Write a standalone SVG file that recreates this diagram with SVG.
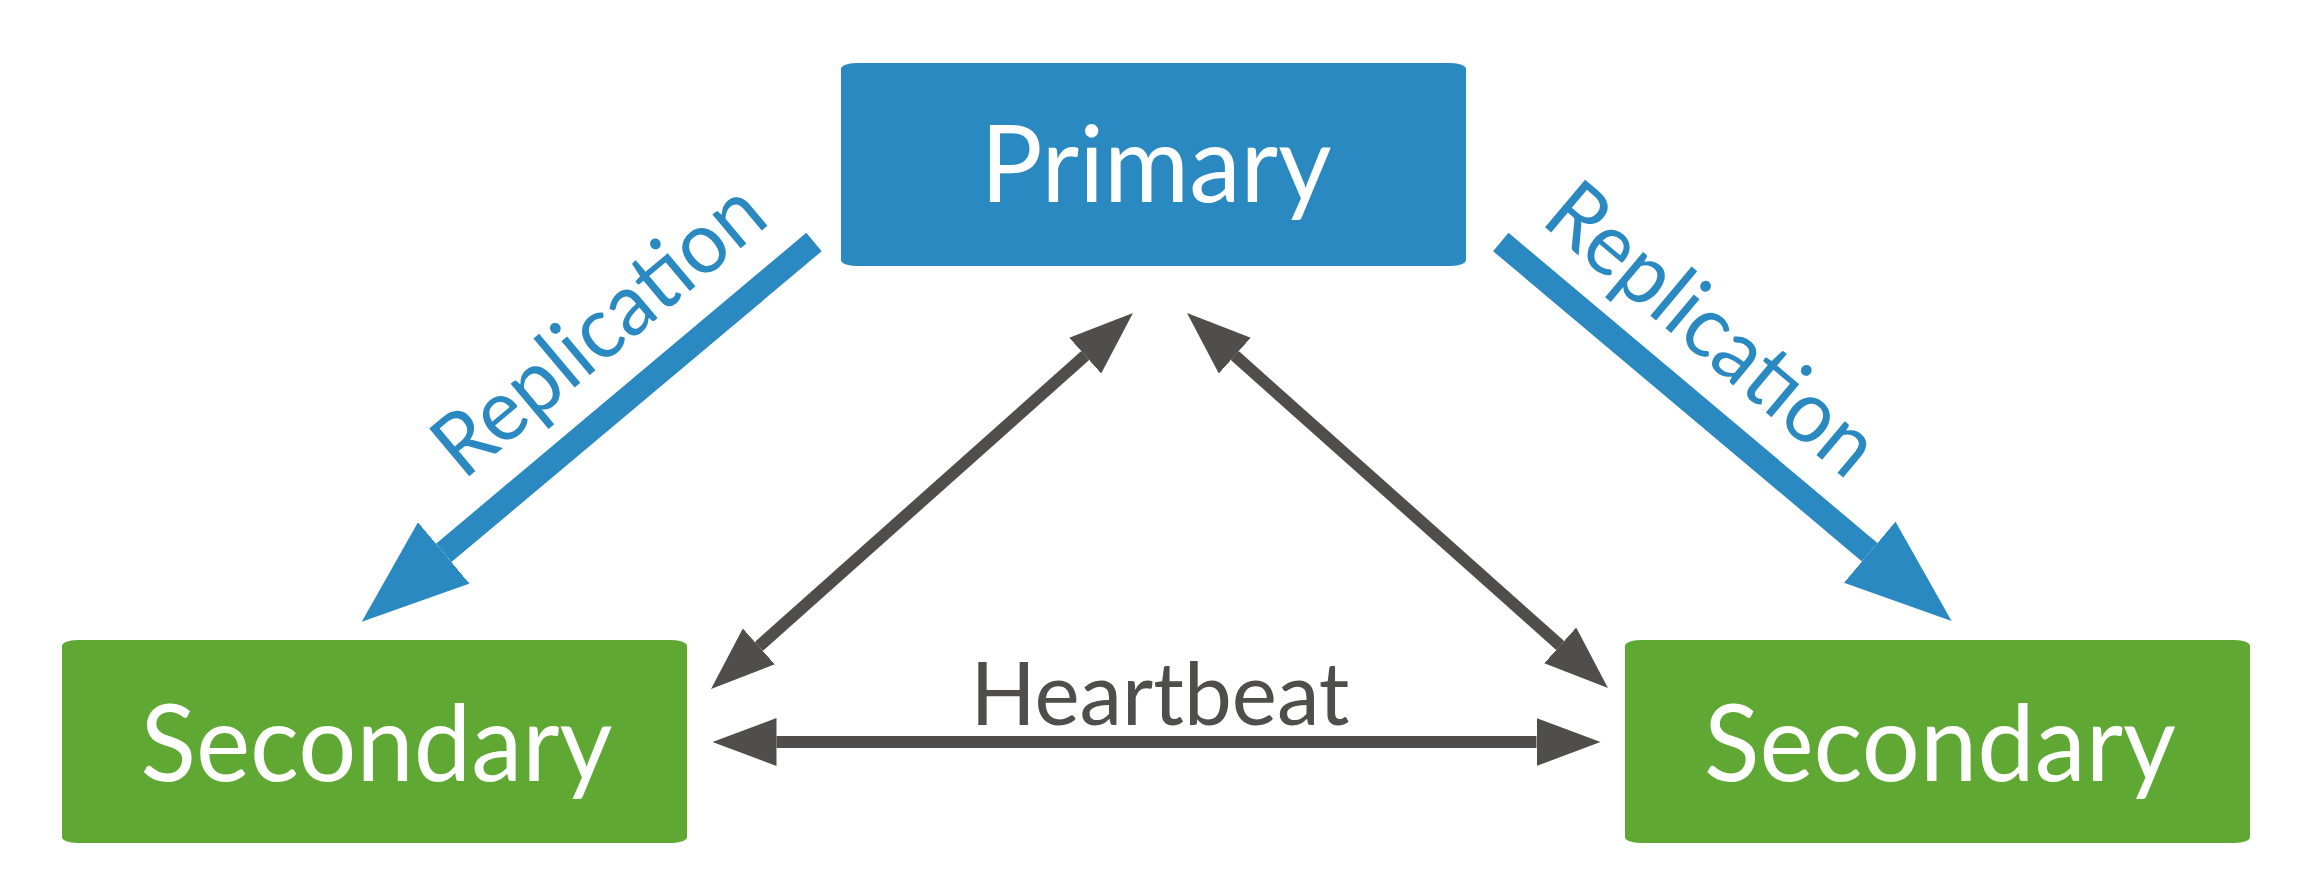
<svg xmlns="http://www.w3.org/2000/svg" width="2313" height="875" viewBox="0 0 2313 875">
  <style>
    .box-blue { fill: #2B89C1; }
    .box-green { fill: #5EA833; }
    .label { font-family: Lato, "Open Sans", "Liberation Sans", sans-serif; fill: #FFFFFF; font-size: 107px; text-anchor: middle; }
    .rep { font-family: Lato, "Open Sans", "Liberation Sans", sans-serif; fill: #2B89C1; font-size: 87px; text-anchor: middle; }
    .hb { font-family: Lato, "Open Sans", "Liberation Sans", sans-serif; fill: #4F4E4C; font-size: 88px; text-anchor: middle; }
    .rep-line { stroke: #2B89C1; stroke-width: 24; fill: none; }
    .gray-line { stroke: #4F4E4C; stroke-width: 12; fill: none; }
  </style>
  <defs>
    <marker id="blueHead" markerUnits="userSpaceOnUse" markerWidth="108" markerHeight="80" refX="0" refY="40" orient="auto-start-reverse" viewBox="0 0 108 80">
      <path d="M0,0 L107,40 L0,80 Z" fill="#2B89C1"/>
    </marker>
    <marker id="grayHead" markerUnits="userSpaceOnUse" markerWidth="65" markerHeight="48" refX="0" refY="24" orient="auto-start-reverse" viewBox="0 0 65 48">
      <path d="M0,0 L64,24 L0,48 Z" fill="#4F4E4C"/>
    </marker>
  </defs>

  <rect width="2313" height="875" fill="#FFFFFF"/>

  <g id="primary">
    <rect class="box-blue" x="841" y="63" width="625" height="203" rx="15" ry="6"/>
    <text class="label" x="1156" y="202" textLength="351" lengthAdjust="spacingAndGlyphs">Primary</text>
  </g>

  <g id="secondary-left">
    <rect class="box-green" x="62" y="640" width="625" height="203" rx="15" ry="6"/>
    <text class="label" x="376.5" y="780.5" textLength="472" lengthAdjust="spacingAndGlyphs">Secondary</text>
  </g>

  <g id="secondary-right">
    <rect class="box-green" x="1625" y="640" width="625" height="203" rx="15" ry="6"/>
    <text class="label" x="1940" y="780.5" textLength="472" lengthAdjust="spacingAndGlyphs">Secondary</text>
  </g>

  <g id="connectors">
    <line class="rep-line" x1="814" y1="242" x2="443.7" y2="552.9" marker-end="url(#blueHead)"/>
    <line class="rep-line" x1="1500.8" y1="242" x2="1869.7" y2="552.2" marker-end="url(#blueHead)"/>
    <line class="gray-line" x1="758.8" y1="646.4" x2="1085.2" y2="355.6" marker-start="url(#grayHead)" marker-end="url(#grayHead)"/>
    <line class="gray-line" x1="1234.8" y1="355.6" x2="1560.2" y2="645.4" marker-start="url(#grayHead)" marker-end="url(#grayHead)"/>
    <line class="gray-line" x1="776.5" y1="742" x2="1536.5" y2="742" marker-start="url(#grayHead)" marker-end="url(#grayHead)"/>
    <text class="rep" x="617.5" y="351.7" transform="rotate(-40 617.5 351.7)" textLength="402" lengthAdjust="spacingAndGlyphs">Replication</text>
    <text class="rep" x="1693.3" y="351.7" transform="rotate(40 1693.3 351.7)" textLength="402" lengthAdjust="spacingAndGlyphs">Replication</text>
    <text class="hb" x="1160" y="725" textLength="379" lengthAdjust="spacingAndGlyphs">Heartbeat</text>
  </g>
</svg>
